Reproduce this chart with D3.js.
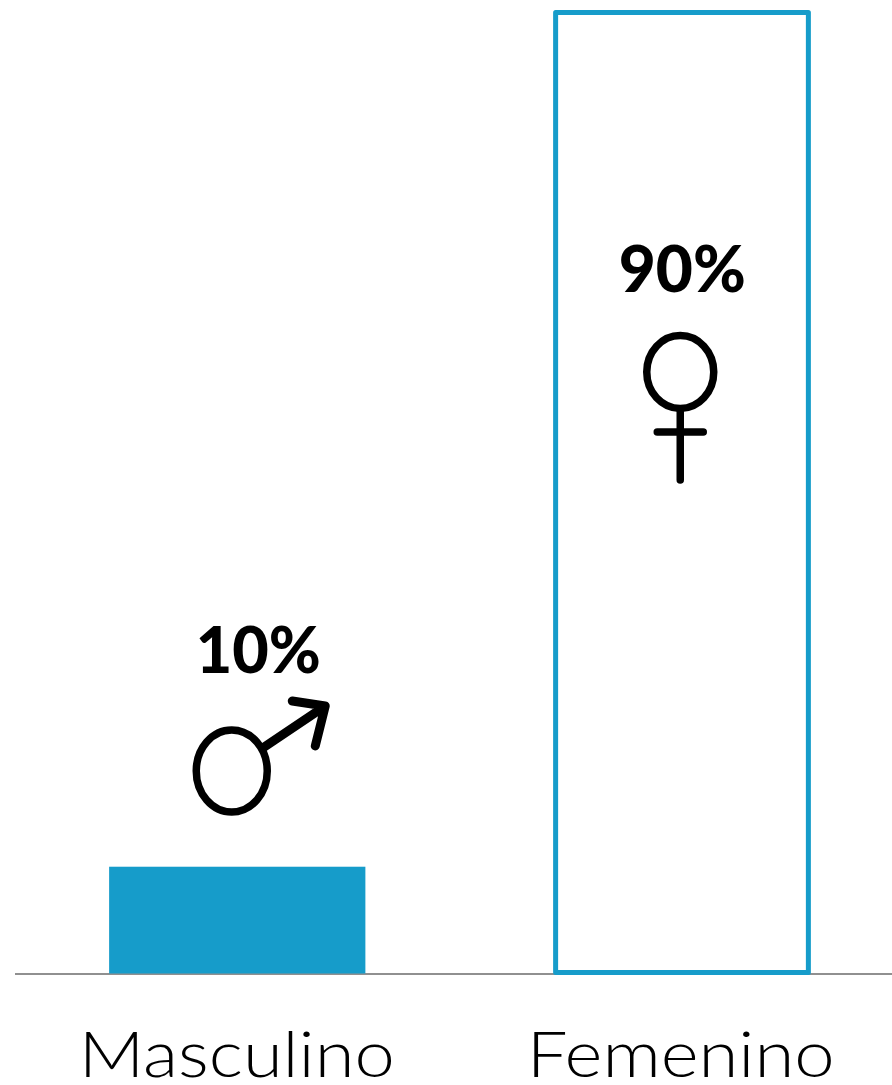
<!DOCTYPE html>
<html><head><meta charset="utf-8">
<script src="https://cdn.jsdelivr.net/npm/d3@7/dist/d3.min.js"></script>
<style>html,body{margin:0;padding:0;background:#fff}svg{display:block}</style>
</head><body><div id="chart"></div>
<script>
const categories = ["Masculino", "Femenino"];
const values = [10, 90];
const valueLabels = ["10%", "90%"];
const barFill = ["#169cca", "none"];

const W = 892, H = 1085, baseY = 973.5;
const x = d3.scaleBand().domain(categories).range([15, 904]).paddingInner(0.4235).paddingOuter(0.21175);
const y = d3.scaleLinear().domain([0, 90]).range([baseY, 12.5]);
const color = "#169cca";

const svg = d3.select("#chart").append("svg").attr("width", W).attr("height", H);

// axis
const axis = svg.append("g").attr("transform", `translate(0,${baseY})`)
  .call(d3.axisBottom(x).tickSize(0));
axis.select(".domain").attr("stroke", "#909090").attr("stroke-width", 2).attr("d", "M15,0.5H892");
axis.selectAll("text")
  .attr("y", 103.5).attr("dy", 0)
  .attr("x", (d, i) => [-0.5, -1][i])
  .attr("font-family", "Lato, sans-serif").attr("font-weight", 300)
  .attr("font-size", 63).attr("fill", "#000")
  .attr("text-anchor", "middle")
  .attr("textLength", (d, i) => [316, 308][i]).attr("lengthAdjust", "spacingAndGlyphs");

// bars
categories.forEach((c, i) => {
  const outlined = barFill[i] === "none";
  const inset = outlined ? 2 : 0;
  svg.append("rect")
    .attr("x", x(c) + inset)
    .attr("y", y(values[i]))
    .attr("width", x.bandwidth() - inset * 2 + (outlined ? 0.5 : 0))
    .attr("height", baseY - y(values[i]) - (outlined ? 1 : 0))
    .attr("fill", barFill[i])
    .attr("stroke", outlined ? color : "none")
    .attr("stroke-width", outlined ? 5 : 0)
    .attr("stroke-linejoin", "round");
});

// value labels
const labelDx = [21, 0.5], labelY = [673, 292], labelLen = [125, 127];
categories.forEach((c, i) => {
  svg.append("text").text(valueLabels[i])
    .attr("x", x(c) + x.bandwidth() / 2 + labelDx[i]).attr("y", labelY[i])
    .attr("text-anchor", "middle")
    .attr("font-family", "Lato, sans-serif").attr("font-weight", 900)
    .attr("font-size", 64).attr("fill", "#000")
    .attr("textLength", labelLen[i]).attr("lengthAdjust", "spacingAndGlyphs");
});

// gender symbols, placed relative to each bar centre
const sym = { fill: "none", stroke: "#000", "stroke-width": 7.5, "stroke-linecap": "round", "stroke-linejoin": "round" };
const style = s => { Object.entries(sym).forEach(([k, v]) => s.attr(k, v)); return s; };

const male = svg.append("g").attr("transform", `translate(${x("Masculino") + x.bandwidth() / 2},771)`);
style(male.append("ellipse")).attr("cx", -5.5).attr("cy", 0).attr("rx", 35.5).attr("ry", 41);
style(male.append("path")).attr("stroke-width", 9).attr("d", "M27,-24L88,-65M55,-70L88,-65L78,-25");

const female = svg.append("g").attr("transform", `translate(${x("Femenino") + x.bandwidth() / 2 - 1.5},372)`);
style(female.append("ellipse")).attr("cx", 0).attr("cy", 0).attr("rx", 33.5).attr("ry", 36.5);
style(female.append("path")).attr("d", "M0,37V108M-23,60H23");
</script></body></html>
